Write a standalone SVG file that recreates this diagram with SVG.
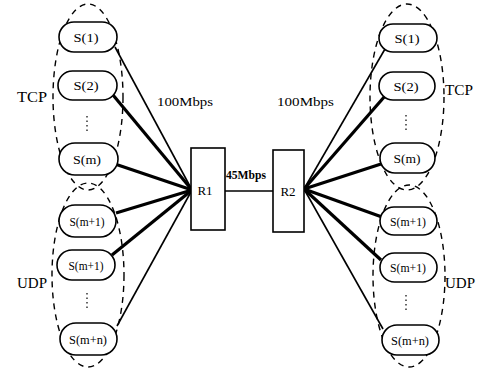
<svg xmlns="http://www.w3.org/2000/svg" width="483" height="370" viewBox="0 0 483 370">
<style>
.grp{fill:none;stroke:#000;stroke-width:1.4;stroke-dasharray:6 5}
.node rect{fill:#fff;stroke:#000;stroke-width:1.6}
.router rect{fill:#fff;stroke:#000;stroke-width:1.6}
text{font-family:"Liberation Serif","Times New Roman",serif;fill:#000}
.nl{font-size:13px;text-anchor:middle}
.lbl{font-size:14px}
.thin{stroke:#000;stroke-width:1.6;fill:none}
.thick{stroke:#000;stroke-width:3.2;fill:none}
.dots{stroke:#000;stroke-width:1.2;stroke-dasharray:1.5 3}
</style>
<rect width="483" height="370" fill="#fff"/>
<g id="groups">
<ellipse class="grp" cx="88" cy="97" rx="35" ry="93"/>
<ellipse class="grp" cx="88" cy="275" rx="36" ry="92"/>
<ellipse class="grp" cx="407" cy="97" rx="37" ry="93"/>
<ellipse class="grp" cx="409" cy="276" rx="36" ry="91"/>
<text class="lbl" x="17" y="102" textLength="30" lengthAdjust="spacingAndGlyphs">TCP</text>
<text class="lbl" x="17" y="288" textLength="30" lengthAdjust="spacingAndGlyphs">UDP</text>
<text class="lbl" x="445" y="95" textLength="28" lengthAdjust="spacingAndGlyphs">TCP</text>
<text class="lbl" x="445" y="288" textLength="30" lengthAdjust="spacingAndGlyphs">UDP</text>
<line class="dots" x1="87" y1="116" x2="87" y2="132"/>
<line class="dots" x1="87" y1="293" x2="87" y2="310"/>
<line class="dots" x1="406" y1="115" x2="406" y2="131"/>
<line class="dots" x1="406" y1="295" x2="406" y2="311"/>
</g>
<g id="connectors">
<line class="thin" x1="115" y1="47" x2="192" y2="190"/>
<line class="thick" x1="113" y1="95" x2="192" y2="190"/>
<line class="thick" x1="115" y1="164" x2="192" y2="190"/>
<line class="thick" x1="116" y1="213" x2="192" y2="190"/>
<line class="thick" x1="112" y1="255" x2="192" y2="190"/>
<line class="thin" x1="117" y1="326" x2="192" y2="190"/>
<line class="thin" x1="225" y1="191" x2="273" y2="191"/>
<line class="thin" x1="385" y1="49" x2="304" y2="189"/>
<line class="thick" x1="385" y1="96" x2="304" y2="189"/>
<line class="thick" x1="381" y1="164" x2="304" y2="189"/>
<line class="thick" x1="382" y1="217" x2="304" y2="189"/>
<line class="thick" x1="381" y1="260" x2="304" y2="189"/>
<line class="thin" x1="383" y1="329" x2="304" y2="189"/>
<text x="157" y="106" font-size="13" textLength="56" lengthAdjust="spacingAndGlyphs">100Mbps</text>
<text x="277" y="106" font-size="13" textLength="57" lengthAdjust="spacingAndGlyphs">100Mbps</text>
<text x="226" y="179" font-size="12" font-weight="bold" textLength="40" lengthAdjust="spacingAndGlyphs">45Mbps</text>
</g>
<g id="R1" class="router"><rect x="191" y="148" width="34" height="82"/><text class="nl" x="205" y="195">R1</text></g>
<g id="R2" class="router"><rect x="273" y="150" width="31" height="82"/><text class="nl" x="288" y="196">R2</text></g>
<g id="L_S1" class="node"><rect x="59" y="22" width="58" height="30" rx="15"/><text class="nl" x="86" y="42" textLength="25" lengthAdjust="spacingAndGlyphs">S(1)</text></g>
<g id="L_S2" class="node"><rect x="58" y="71" width="59" height="29" rx="14.5"/><text class="nl" x="86" y="90" textLength="25" lengthAdjust="spacingAndGlyphs">S(2)</text></g>
<g id="L_Sm" class="node"><rect x="59" y="143" width="59" height="32" rx="16"/><text class="nl" x="87" y="164" textLength="28" lengthAdjust="spacingAndGlyphs">S(m)</text></g>
<g id="L_Sm1" class="node"><rect x="59" y="205" width="57" height="32" rx="16"/><text class="nl" x="87" y="226" textLength="35" lengthAdjust="spacingAndGlyphs">S(m+1)</text></g>
<g id="L_Sm1b" class="node"><rect x="57" y="250" width="58" height="30" rx="15"/><text class="nl" x="86" y="270" textLength="35" lengthAdjust="spacingAndGlyphs">S(m+1)</text></g>
<g id="L_Smn" class="node"><rect x="60" y="323" width="57" height="32" rx="16"/><text class="nl" x="88" y="344" textLength="38" lengthAdjust="spacingAndGlyphs">S(m+n)</text></g>
<g id="R_S1" class="node"><rect x="379" y="24" width="58" height="28" rx="14"/><text class="nl" x="407" y="43" textLength="25" lengthAdjust="spacingAndGlyphs">S(1)</text></g>
<g id="R_S2" class="node"><rect x="379" y="72" width="56" height="28" rx="14"/><text class="nl" x="406" y="91" textLength="25" lengthAdjust="spacingAndGlyphs">S(2)</text></g>
<g id="R_Sm" class="node"><rect x="380" y="143" width="55" height="30" rx="15"/><text class="nl" x="407" y="163" textLength="27" lengthAdjust="spacingAndGlyphs">S(m)</text></g>
<g id="R_Sm1" class="node"><rect x="380" y="207" width="57" height="28" rx="14"/><text class="nl" x="408" y="226" textLength="36" lengthAdjust="spacingAndGlyphs">S(m+1)</text></g>
<g id="R_Sm1b" class="node"><rect x="380" y="253" width="57" height="29" rx="14.5"/><text class="nl" x="408" y="272" textLength="36" lengthAdjust="spacingAndGlyphs">S(m+1)</text></g>
<g id="R_Smn" class="node"><rect x="382" y="325" width="57" height="30" rx="15"/><text class="nl" x="410" y="345" textLength="38" lengthAdjust="spacingAndGlyphs">S(m+n)</text></g>
</svg>
